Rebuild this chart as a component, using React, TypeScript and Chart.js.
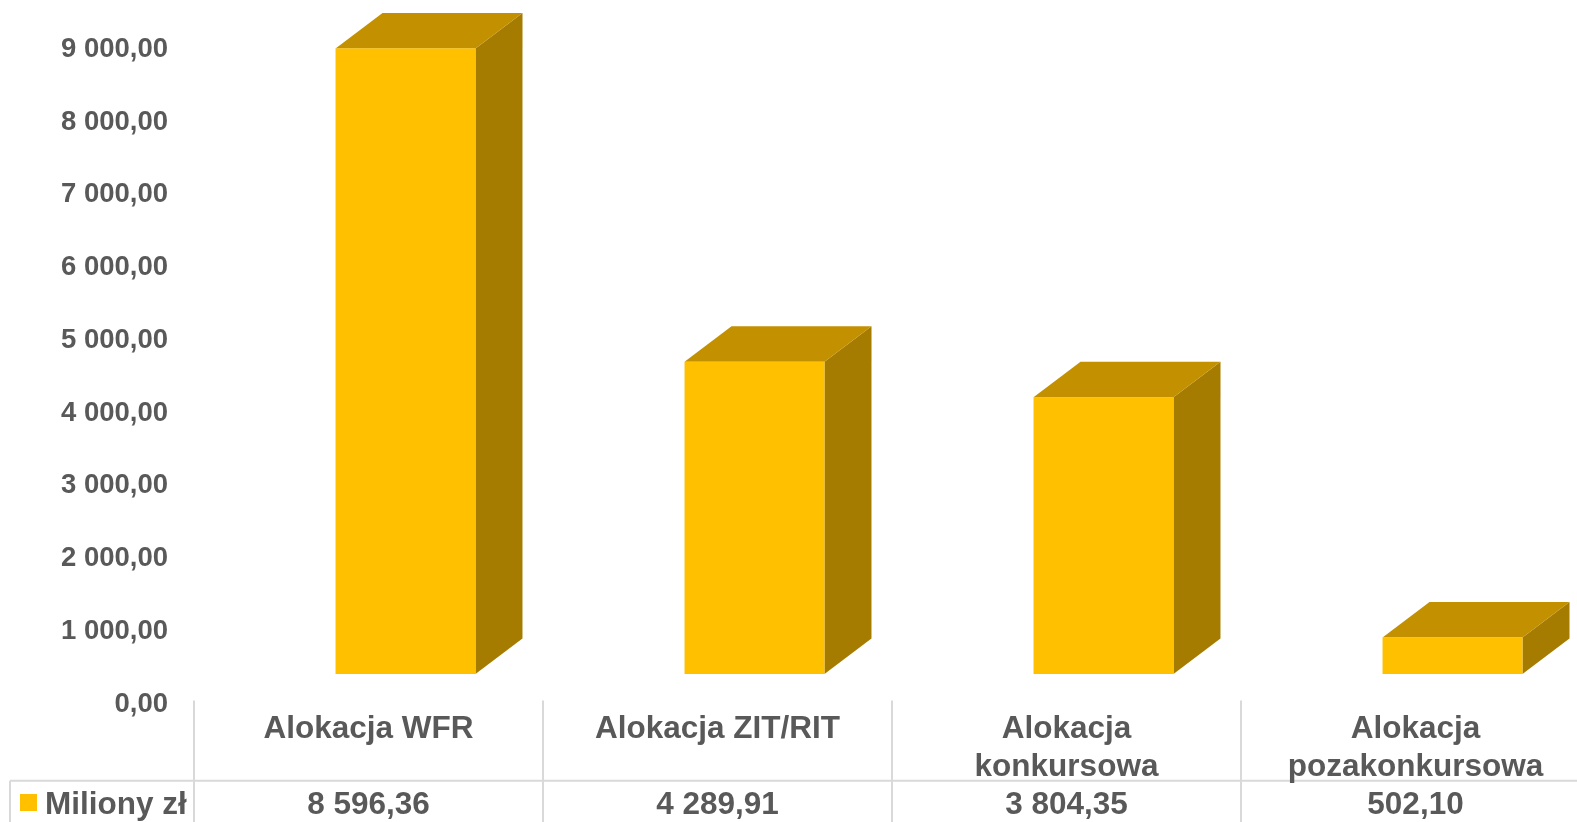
import React, { useEffect, useRef } from 'react';
import { Chart, registerables } from 'chart.js';

Chart.register(...registerables);

const categoryLines: string[][] = [
  ['Alokacja WFR'],
  ['Alokacja ZIT/RIT'],
  ['Alokacja', 'konkursowa'],
  ['Alokacja', 'pozakonkursowa'],
];
const categories = categoryLines.map((l) => l.join(' '));
const values = [8596.36, 4289.91, 3804.35, 502.1];
const seriesLabel = 'Miliony zł';
const yMin = 0;
const yMax = 9000;
const yStep = 1000;

const FRONT = '#FFC000';
const TOP = '#C39000';
const SIDE = '#A67C00';
const TEXT = '#595959';
const LINE = '#D9D9D9';
const FONT = '"Liberation Sans", Arial, sans-serif';

const fmt = (n: number) => {
  const [i, d] = n.toFixed(2).split('.');
  return i.replace(/\B(?=(\d{3})+(?!\d))/g, ' ') + ',' + d;
};

// 3D geometry (depth offsets)
const OFFX = 37;
const OFFY = -30.2;
const DX = 47;
const DY = -35.5;

const bar3d = {
  id: 'bar3d',
  afterDatasetsDraw(chart: any) {
    const ctx = chart.ctx as CanvasRenderingContext2D;
    const meta = chart.getDatasetMeta(0);
    ctx.save();
    meta.data.forEach((el: any) => {
      const { x, y, base, width } = el.getProps(['x', 'y', 'base', 'width'], true);
      const l = x - width / 2 + OFFX;
      const r = l + width;
      const t = y + OFFY;
      const b = base + OFFY;
      ctx.fillStyle = SIDE;
      ctx.beginPath();
      ctx.moveTo(r, t);
      ctx.lineTo(r + DX, t + DY);
      ctx.lineTo(r + DX, b + DY);
      ctx.lineTo(r, b);
      ctx.closePath();
      ctx.fill();
      ctx.fillStyle = TOP;
      ctx.beginPath();
      ctx.moveTo(l, t);
      ctx.lineTo(l + DX, t + DY);
      ctx.lineTo(r + DX, t + DY);
      ctx.lineTo(r, t);
      ctx.closePath();
      ctx.fill();
      ctx.fillStyle = FRONT;
      ctx.fillRect(l, t, width, b - t);
    });
    ctx.restore();
  },
};

const dataTable = {
  id: 'dataTable',
  afterDraw(chart: any) {
    const ctx = chart.ctx as CanvasRenderingContext2D;
    const xs = chart.scales.x;
    const area = chart.chartArea;
    const n = categories.length;
    const cw = (area.right - area.left) / n;
    const top = 700.5;
    const rowY = 780.7;
    const bottom = chart.height;
    ctx.save();
    ctx.strokeStyle = LINE;
    ctx.lineWidth = 2;
    ctx.beginPath();
    for (let i = 0; i <= n; i++) {
      const bx = xs.getPixelForValue(i) - cw / 2;
      ctx.moveTo(bx, top);
      ctx.lineTo(bx, bottom);
    }
    ctx.moveTo(10, rowY);
    ctx.lineTo(chart.width, rowY);
    ctx.moveTo(10, rowY);
    ctx.lineTo(10, bottom);
    ctx.stroke();

    ctx.fillStyle = TEXT;
    ctx.font = `bold 31.5px ${FONT}`;
    ctx.textAlign = 'center';
    ctx.textBaseline = 'alphabetic';
    categoryLines.forEach((lines, i) => {
      const cx = xs.getPixelForValue(i);
      lines.forEach((ln, j) => ctx.fillText(ln, cx, 737.5 + j * 38.5));
      ctx.fillText(fmt(values[i]), cx, 814);
    });
    ctx.fillStyle = FRONT;
    ctx.fillRect(20, 794, 17, 17);
    ctx.fillStyle = TEXT;
    ctx.textAlign = 'left';
    ctx.fillText(seriesLabel, 45, 814);
    ctx.restore();
  },
};

export default function App() {
  const ref = useRef<HTMLCanvasElement>(null);
  useEffect(() => {
    if (!ref.current) return;
    const chart = new Chart(ref.current, {
      type: 'bar',
      data: {
        labels: categories,
        datasets: [
          {
            label: seriesLabel,
            data: values,
            backgroundColor: 'rgba(0,0,0,0)',
            borderWidth: 0,
            categoryPercentage: 1,
            barPercentage: 0.401,
          },
        ],
      },
      options: {
        responsive: false,
        animation: false,
        layout: { padding: { left: 0, right: 10, top: 49.2, bottom: 117.8 } },
        plugins: { legend: { display: false }, tooltip: { enabled: false } },
        scales: {
          x: { display: false },
          y: {
            min: yMin,
            max: yMax,
            afterFit: (s: any) => {
              s.width = 194;
            },
            grid: { display: false },
            border: { display: false },
            ticks: {
              stepSize: yStep,
              padding: 18,
              color: TEXT,
              font: { family: FONT, size: 27.5, weight: 'bold' },
              callback: (v: any) => fmt(Number(v)),
            },
          },
        },
      },
      plugins: [bar3d, dataTable],
    });
    return () => chart.destroy();
  }, []);
  return (
    <div
      style={{
        position: 'fixed',
        left: 0,
        top: 0,
        width: 1577,
        height: 822,
        overflow: 'hidden',
        background: '#fff',
      }}
    >
      <canvas ref={ref} width={1600} height={822} style={{ display: 'block' }} />
    </div>
  );
}
